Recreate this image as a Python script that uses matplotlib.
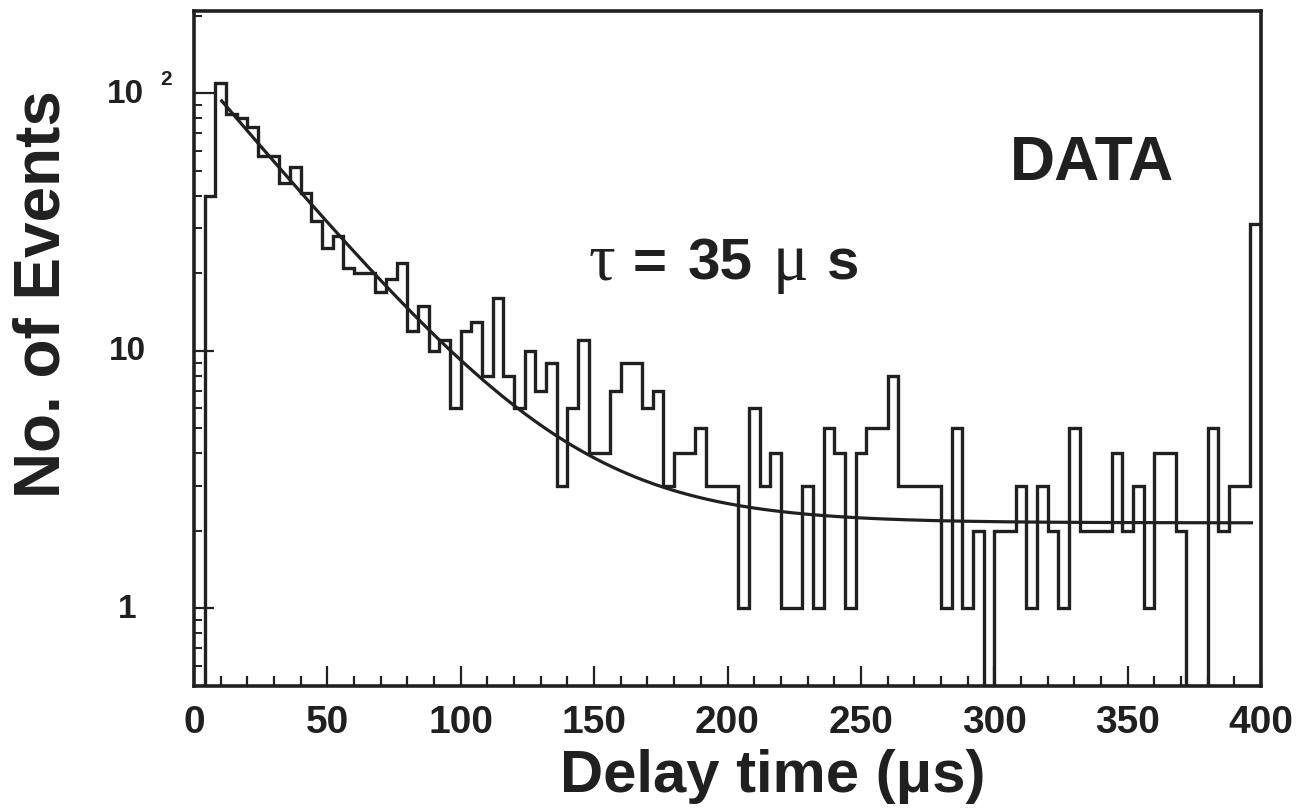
import numpy as np
import matplotlib
matplotlib.use("Agg")
import matplotlib.pyplot as plt
from matplotlib.ticker import MultipleLocator, LogLocator, NullFormatter
from matplotlib.transforms import blended_transform_factory

# ---- histogram: delay-time distribution, 4 us bins from 0 to 400 us ----
bin_width_us = 4
bin_edges = np.arange(0, 400 + bin_width_us, bin_width_us)
counts = np.array([
    0, 40, 110, 83, 80, 74, 57, 57, 45, 52,
    41, 32, 25, 28, 21, 20, 20, 17, 19, 22,
    12, 15, 10, 11, 6, 12, 13, 8, 16, 8,
    6, 10, 7, 9, 3, 6, 11, 4, 4, 7,
    9, 9, 6, 7, 3, 4, 4, 5, 3, 3,
    3, 1, 6, 3, 4, 1, 1, 3, 1, 5,
    4, 1, 4, 5, 5, 8, 3, 3, 3, 3,
    1, 5, 1, 2, 0, 2, 2, 3, 1, 3,
    2, 1, 5, 2, 2, 2, 4, 2, 3, 1,
    4, 4, 2, 0, 0, 5, 2, 3, 3, 31,
])

# ---- exponential + flat background fit ----
tau_us = 35.0
fit_amplitude = 123.0
fit_background = 2.15
fit_start_us, fit_stop_us = 10.0, 397.0

# ---- axis ticks ----
x_major_ticks = [0, 50, 100, 150, 200, 250, 300, 350, 400]
x_tick_labels = ["0", "50", "100", "150", "200", "250", "300", "350", "400"]
y_label_values = [1, 10, 100]
y_label_texts = ["1", "10", "10"]
y_exponent_text = "2"

ink = "#202020"
sans = ["Liberation Sans", "DejaVu Sans"]
serif = ["Liberation Serif", "DejaVu Serif"]

W, H = 1303, 812
fig = plt.figure(figsize=(W / 100, H / 100), dpi=100)
fig.patch.set_facecolor("white")
ax = fig.add_axes([194 / W, 1 - 687 / H, (1261 - 194) / W, (687 - 12) / H])

ax.set_yscale("log")
ax.set_xlim(0, 400)
ax.set_ylim(0.5, 209)

# zero-count bins fall below the log axis
floor = 1e-2
shown = np.where(counts > 0, counts, floor)
ax.stairs(shown, bin_edges, baseline=floor, color=ink, lw=2.4)

t = np.linspace(fit_start_us, fit_stop_us, 500)
ax.plot(t, fit_amplitude * np.exp(-t / tau_us) + fit_background,
        color=ink, lw=2.3, solid_capstyle="butt")

# frame and ticks
for s in ax.spines.values():
    s.set_linewidth(2.6)
    s.set_color(ink)

ax.xaxis.set_major_locator(plt.FixedLocator(x_major_ticks))
ax.xaxis.set_minor_locator(MultipleLocator(10))
ax.set_xticklabels(x_tick_labels)
ax.yaxis.set_major_locator(LogLocator(base=10, numticks=10))
ax.yaxis.set_minor_locator(LogLocator(base=10, subs=np.arange(2, 10), numticks=20))
ax.yaxis.set_major_formatter(NullFormatter())
ax.yaxis.set_minor_formatter(NullFormatter())

ax.tick_params(axis="x", which="major", direction="in", length=14.5, width=1.6,
               color=ink, pad=13, labelsize=28, labelcolor=ink)
ax.tick_params(axis="x", which="minor", direction="in", length=7.5, width=1.6, color=ink)
ax.tick_params(axis="y", which="major", direction="in", length=14.5, width=1.6, color=ink)
ax.tick_params(axis="y", which="minor", direction="in", length=6, width=1.4, color=ink)
for lab in ax.get_xticklabels():
    lab.set_fontweight("bold")
    lab.set_family(sans)

# y tick labels, centred in a column left of the axis
ytr = blended_transform_factory(fig.transFigure, ax.transData)
for v, txt in zip(y_label_values, y_label_texts):
    xc = 127 if v < 100 else 125
    ax.text(xc / W, v, txt, transform=ytr, ha="center", va="center",
            fontsize=24, fontweight="bold", family=sans, color=ink)
ax.text(160 / W, 114, y_exponent_text, transform=ytr, ha="left", va="center",
        fontsize=15, fontweight="bold", family=sans, color=ink)

# axis titles
ax.set_xlabel("Delay time (\u03bcs)", fontsize=43, fontweight="bold", family=sans, color=ink)
ax.xaxis.label.set_va("baseline")
ax.xaxis.set_label_coords((773 - 194) / (1261 - 194), (687 - 792) / (687 - 12))
ax.set_ylabel("No. of Events", fontsize=46, fontweight="bold", family=sans, color=ink)
ax.yaxis.label.set_va("center")
ax.yaxis.set_label_coords((43 - 194) / (1261 - 194), (687 - 294) / (687 - 12))

# annotations
fig.text(1010 / W, 1 - 180 / H, "DATA", ha="left", va="baseline",
         fontsize=45, fontweight="bold", family=sans, color=ink)

base = 1 - 280 / H
fig.text(589 / W, base, "\u03c4", ha="left", va="baseline", fontsize=48, family=serif, color=ink)
fig.text(633 / W, base, "=", ha="left", va="baseline", fontsize=42, fontweight="bold", family=sans, color=ink)
fig.text(688 / W, base, "35", ha="left", va="baseline", fontsize=42, fontweight="bold", family=sans, color=ink)
fig.text(773 / W, base, "\u03bc", ha="left", va="baseline", fontsize=48, family=serif, color=ink)
fig.text(827 / W, base, "s", ha="left", va="baseline", fontsize=42, fontweight="bold", family=sans, color=ink)

fig.savefig("out.png", dpi=100, facecolor="white")
